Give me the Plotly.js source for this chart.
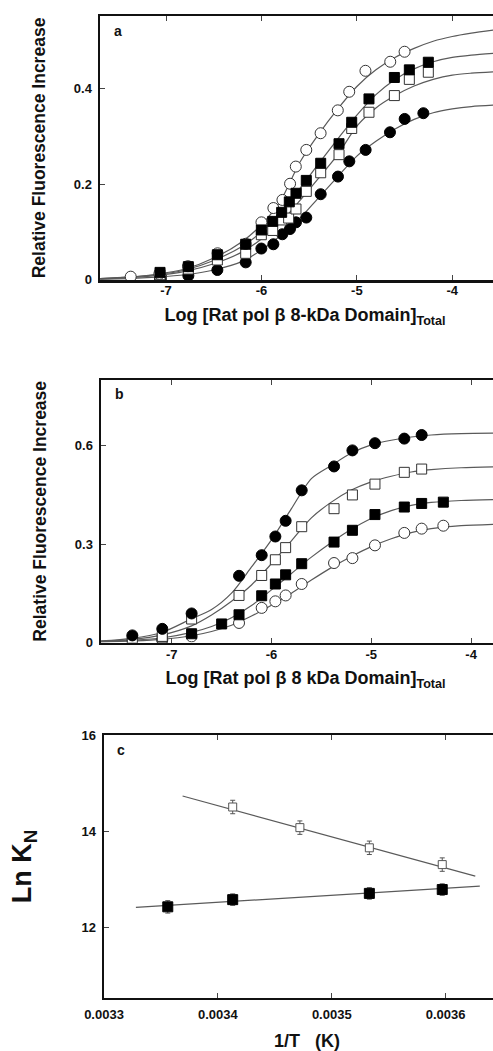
<!DOCTYPE html>
<html>
<head>
<meta charset="utf-8">
<script src="https://cdn.plot.ly/plotly-3.0.1.min.js"></script>
<style>
html,body{margin:0;padding:0;background:#fff;overflow:hidden;}
#chart{width:510px;height:1051px;}
</style>
</head>
<body>
<div id="chart"></div>
<script>
// ---------- Panel a : data (log concentration, relative fluorescence increase) ----------
const aOpenCircX   = [-7.37,-7.07,-6.77,-6.46,-6.165,-6.00,-5.875,-5.78,-5.70,-5.64,-5.53,-5.38,-5.20,-5.08,-4.91,-4.65,-4.50];
const aOpenCircY   = [0.006,0.012,0.028,0.055,0.075,0.120,0.150,0.167,0.201,0.237,0.272,0.307,0.355,0.394,0.438,0.457,0.478];
const aFillSqX     = [-7.063,-6.766,-6.462,-6.165,-6.001,-5.882,-5.788,-5.708,-5.638,-5.530,-5.379,-5.187,-5.054,-4.873,-4.607,-4.450,-4.251];
const aFillSqY     = [0.015,0.027,0.052,0.074,0.104,0.122,0.141,0.163,0.181,0.208,0.244,0.285,0.330,0.379,0.424,0.440,0.456];
const aOpenSqX     = [-7.063,-6.766,-6.462,-6.165,-6.001,-5.882,-5.788,-5.715,-5.638,-5.530,-5.379,-5.187,-5.054,-4.873,-4.607,-4.450,-4.251];
const aOpenSqY     = [0.010,0.022,0.041,0.055,0.094,0.103,0.125,0.129,0.148,0.185,0.224,0.262,0.317,0.351,0.386,0.420,0.435];
const aFillCircX   = [-7.063,-6.766,-6.462,-6.165,-6.001,-5.875,-5.781,-5.701,-5.638,-5.530,-5.379,-5.198,-5.079,-4.908,-4.653,-4.499,-4.303];
const aFillCircY   = [0.002,0.008,0.020,0.036,0.065,0.074,0.095,0.106,0.120,0.130,0.179,0.216,0.248,0.272,0.309,0.337,0.349];

// fitted curves
const aCurveX        = [-7.69,-7.4,-7.1,-6.8,-6.5,-6.2,-6.0,-5.8,-5.6,-5.4,-5.2,-5.0,-4.8,-4.6,-4.4,-4.2,-4.0,-3.8,-3.55];
const aCurveOpenCirc = [0.002,0.005,0.011,0.022,0.045,0.080,0.115,0.165,0.245,0.305,0.358,0.405,0.440,0.466,0.485,0.500,0.510,0.517,0.524];
const aCurveFillSq   = [0.002,0.005,0.010,0.020,0.040,0.070,0.100,0.140,0.190,0.243,0.295,0.345,0.388,0.420,0.442,0.457,0.466,0.471,0.475];
const aCurveOpenSq   = [0.001,0.004,0.008,0.017,0.033,0.058,0.085,0.120,0.165,0.213,0.262,0.322,0.360,0.386,0.406,0.420,0.429,0.433,0.436];
const aCurveFillCirc = [0.001,0.002,0.005,0.010,0.020,0.038,0.062,0.092,0.128,0.172,0.216,0.259,0.290,0.316,0.336,0.350,0.358,0.363,0.366];

// ---------- Panel b ----------
const bFillCircX = [-7.394,-7.094,-6.800,-6.325,-6.098,-5.961,-5.858,-5.697,-5.373,-5.189,-4.963,-4.669,-4.495];
const bFillCircY = [0.021,0.041,0.088,0.203,0.266,0.323,0.371,0.464,0.537,0.586,0.608,0.622,0.633];
const bOpenSqX   = [-7.394,-7.094,-6.800,-6.325,-6.098,-5.961,-5.858,-5.697,-5.373,-5.189,-4.963,-4.669,-4.495];
const bOpenSqY   = [0.008,0.018,0.071,0.143,0.204,0.252,0.289,0.353,0.408,0.450,0.483,0.519,0.529];
const bFillSqX   = [-7.394,-7.094,-6.800,-6.499,-6.325,-6.098,-5.961,-5.858,-5.697,-5.373,-5.189,-4.963,-4.669,-4.495,-4.278];
const bFillSqY   = [0.003,0.010,0.026,0.056,0.084,0.142,0.178,0.206,0.240,0.306,0.342,0.390,0.413,0.424,0.428];
const bOpenCircX = [-7.094,-6.800,-6.325,-6.098,-5.961,-5.858,-5.697,-5.373,-5.189,-4.963,-4.669,-4.495,-4.278];
const bOpenCircY = [0.007,0.018,0.059,0.105,0.125,0.143,0.178,0.242,0.257,0.296,0.334,0.347,0.356];

const bCurveX        = [-7.71,-7.4,-7.1,-6.8,-6.6,-6.4,-6.2,-6.0,-5.8,-5.6,-5.4,-5.2,-5.0,-4.8,-4.6,-4.4,-4.1,-3.6];
const bCurveFillCirc = [0.004,0.012,0.030,0.072,0.100,0.150,0.230,0.313,0.408,0.500,0.540,0.578,0.603,0.617,0.627,0.633,0.637,0.639];
const bCurveOpenSq   = [0.003,0.009,0.022,0.050,0.083,0.125,0.175,0.240,0.310,0.380,0.428,0.465,0.490,0.507,0.520,0.527,0.533,0.537];
const bCurveFillSq   = [0.002,0.006,0.013,0.030,0.048,0.075,0.112,0.160,0.210,0.260,0.305,0.345,0.378,0.402,0.418,0.427,0.433,0.437];
const bCurveOpenCirc = [0.001,0.004,0.009,0.020,0.033,0.052,0.080,0.113,0.150,0.190,0.228,0.262,0.292,0.316,0.335,0.347,0.356,0.362];

// ---------- Panel c : van't Hoff ----------
const cOpenX   = [0.003413,0.003472,0.003533,0.003597];
const cOpenY   = [14.50,14.07,13.65,13.30];
const cOpenErr = [0.14,0.14,0.14,0.14];
const cFillX   = [0.003356,0.003413,0.003533,0.003597];
const cFillY   = [12.42,12.57,12.70,12.78];
const cFillErr = [0.13,0.12,0.12,0.12];
const cOpenLineX = [0.003369,0.003626];
const cOpenLineY = [14.73,13.06];
const cFillLineX = [0.003328,0.003630];
const cFillLineY = [12.41,12.85];

// ---------- tick labels ----------
const aXTicks = [-7,-6,-5,-4];
const aXLabels = ['-7','-6','-5','-4'];
const aYTicks = [0,0.2,0.4];
const aYLabels = ['0','0.2','0.4'];
const bXTicks = [-7,-6,-5,-4];
const bXLabels = ['-7','-6','-5','-4'];
const bYTicks = [0,0.3,0.6];
const bYLabels = ['0','0.3','0.6'];
const cXTicks = [0.0033,0.0034,0.0035,0.0036];
const cXLabels = ['0.0033','0.0034','0.0035','0.0036'];
const cYTicks = [12,14,16];
const cYLabels = ['12','14','16'];

// ---------- styles ----------
const LINE = '#5a5a5a';
const EDGE = '#333';
function curve(x,y,xa,ya){return {x:x,y:y,xaxis:xa,yaxis:ya,mode:'lines',line:{color:LINE,width:1.2,shape:'spline',smoothing:0.8},hoverinfo:'skip',showlegend:false};}
function pts(x,y,xa,ya,sym,filled,size){
  return {x:x,y:y,xaxis:xa,yaxis:ya,mode:'markers',showlegend:false,
    marker:{symbol:sym,size:size,color:filled?'#000':'#fff',line:{color:filled?'#000':EDGE,width:1}}};
}

const traces = [
  curve(aCurveX,aCurveOpenCirc,'x','y'),
  curve(aCurveX,aCurveFillSq,'x','y'),
  curve(aCurveX,aCurveOpenSq,'x','y'),
  curve(aCurveX,aCurveFillCirc,'x','y'),
  pts(aFillCircX,aFillCircY,'x','y','circle',true,11),
  pts(aOpenSqX,aOpenSqY,'x','y','square',false,10),
  pts(aOpenCircX,aOpenCircY,'x','y','circle',false,11),
  pts(aFillSqX,aFillSqY,'x','y','square',true,10),

  curve(bCurveX,bCurveFillCirc,'x2','y2'),
  curve(bCurveX,bCurveOpenSq,'x2','y2'),
  curve(bCurveX,bCurveFillSq,'x2','y2'),
  curve(bCurveX,bCurveOpenCirc,'x2','y2'),
  pts(bOpenCircX,bOpenCircY,'x2','y2','circle',false,11),
  pts(bFillSqX,bFillSqY,'x2','y2','square',true,10),
  pts(bOpenSqX,bOpenSqY,'x2','y2','square',false,10),
  pts(bFillCircX,bFillCircY,'x2','y2','circle',true,11),

  {x:cOpenLineX,y:cOpenLineY,xaxis:'x3',yaxis:'y3',mode:'lines',line:{color:LINE,width:1.2},showlegend:false},
  {x:cFillLineX,y:cFillLineY,xaxis:'x3',yaxis:'y3',mode:'lines',line:{color:LINE,width:1.2},showlegend:false},
  {x:cOpenX,y:cOpenY,xaxis:'x3',yaxis:'y3',mode:'markers',showlegend:false,
   error_y:{type:'data',array:cOpenErr,color:'#555',thickness:1,width:2.5},
   marker:{symbol:'square',size:8,color:'#fff',line:{color:'#555',width:1}}},
  {x:cFillX,y:cFillY,xaxis:'x3',yaxis:'y3',mode:'markers',showlegend:false,
   error_y:{type:'data',array:cFillErr,color:'#555',thickness:1,width:2.5},
   marker:{symbol:'square',size:10,color:'#000',line:{color:'#000',width:1}}}
];

const W = 510, H = 1051;
const FONT = 'Liberation Sans, Arial, sans-serif';
const tickFont = {family:FONT,size:13,color:'#111',weight:'bold'};
function ax(extra){
  return Object.assign({showline:true,linecolor:'#111',linewidth:2.5,mirror:'ticks',ticks:'inside',ticklen:5,tickwidth:1,tickcolor:'#444',
    showgrid:false,zeroline:false,tickfont:tickFont,automargin:false,fixedrange:true,tickmode:'array'},extra);
}
const titleFont = {family:FONT,size:18,color:'#111',weight:'bold'};
const yTitleFont = {family:FONT,size:17.5,color:'#111',weight:'bold'};

const layout = {
  width:W,height:H,margin:{l:0,r:0,t:0,b:0},paper_bgcolor:'#fff',plot_bgcolor:'#fff',showlegend:false,
  xaxis: ax({domain:[100/W,1],range:[-7.692,-3.395],tickvals:aXTicks,ticktext:aXLabels,anchor:'y',ticklabelstandoff:-3,
    title:{text:'Log [Rat pol β 8-kDa Domain]<sub>Total</sub>',font:titleFont,standoff:12}}),
  yaxis: ax({domain:[1-280/H,1-16/H],range:[-0.001,0.553],tickvals:aYTicks,ticktext:aYLabels,anchor:'x',ticklabelstandoff:3,
    title:{text:'Relative Fluorescence Increase',font:yTitleFont,standoff:24}}),
  xaxis2: ax({domain:[101/W,1],range:[-7.708,-3.610],tickvals:bXTicks,ticktext:bXLabels,anchor:'y2',ticklabelstandoff:-2,
    title:{text:'Log [Rat pol β 8 kDa Domain]<sub>Total</sub>',font:titleFont,standoff:11}}),
  yaxis2: ax({domain:[1-642.6/H,1-380/H],range:[-0.001,0.801],tickvals:bYTicks,ticktext:bYLabels,anchor:'x2',ticklabelstandoff:3,
    title:{text:'Relative Fluorescence Increase',font:yTitleFont,standoff:24}}),
  xaxis3: ax({domain:[104/W,1],range:[0.0033,0.0036565],tickvals:cXTicks,ticktext:cXLabels,anchor:'y3',ticklabelstandoff:3,
    title:{text:'1/T   (K)',font:titleFont,standoff:14}}),
  yaxis3: ax({domain:[1-997.7/H,1-735/H],range:[10.527,16.0],tickvals:cYTicks,ticktext:cYLabels,anchor:'x3',ticklabelstandoff:3,
    title:{text:'Ln K<sub>N</sub>',font:{family:FONT,size:27,color:'#111',weight:'bold'},standoff:42}}),
  annotations:[
    {text:'a',xref:'paper',yref:'paper',x:112/W,y:1-31/H,xanchor:'left',yanchor:'middle',showarrow:false,font:{family:FONT,size:14,color:'#111',weight:'bold'}},
    {text:'b',xref:'paper',yref:'paper',x:113/W,y:1-394/H,xanchor:'left',yanchor:'middle',showarrow:false,font:{family:FONT,size:14,color:'#111',weight:'bold'}},
    {text:'c',xref:'paper',yref:'paper',x:115/W,y:1-750/H,xanchor:'left',yanchor:'middle',showarrow:false,font:{family:FONT,size:14,color:'#111',weight:'bold'}}
  ]
};

Plotly.newPlot('chart',traces,layout,{staticPlot:true,displayModeBar:false});
</script>
</body>
</html>
